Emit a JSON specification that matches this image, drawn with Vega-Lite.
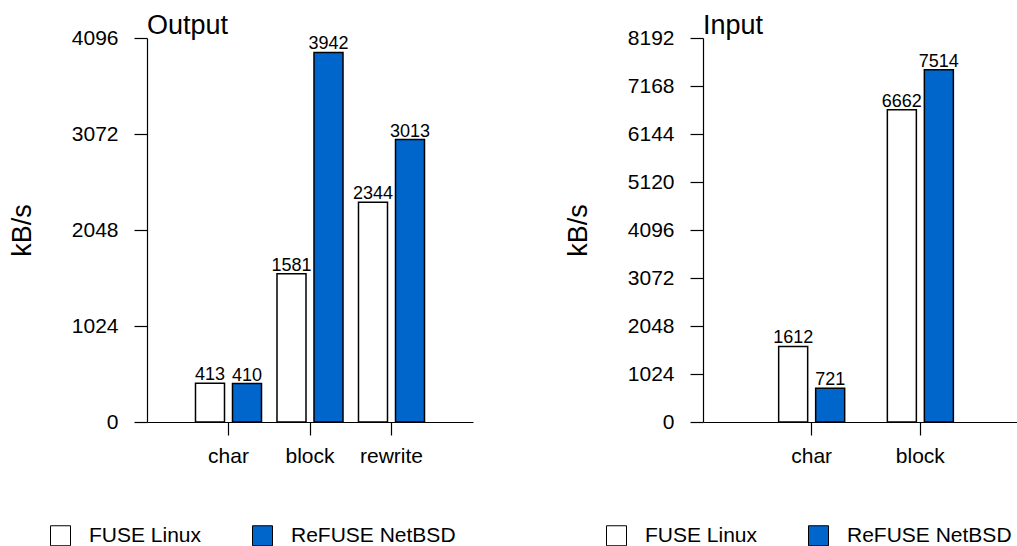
{
  "$schema": "https://vega.github.io/schema/vega-lite/v6.json",
  "padding": {"left": 8, "top": 12, "right": 0, "bottom": 0},
  "datasets": {
    "output": [
      {"test": "char", "sys": "FUSE Linux", "kbs": 413},
      {"test": "char", "sys": "ReFUSE NetBSD", "kbs": 410},
      {"test": "block", "sys": "FUSE Linux", "kbs": 1581},
      {"test": "block", "sys": "ReFUSE NetBSD", "kbs": 3942},
      {"test": "rewrite", "sys": "FUSE Linux", "kbs": 2344},
      {"test": "rewrite", "sys": "ReFUSE NetBSD", "kbs": 3013}
    ],
    "input": [
      {"test": "char", "sys": "FUSE Linux", "kbs": 1612},
      {"test": "char", "sys": "ReFUSE NetBSD", "kbs": 721},
      {"test": "block", "sys": "FUSE Linux", "kbs": 6662},
      {"test": "block", "sys": "ReFUSE NetBSD", "kbs": 7514}
    ]
  },
  "spacing": 91,
  "resolve": {"scale": {"color": "independent", "y": "independent", "x": "independent"}, "legend": {"color": "independent"}},
  "hconcat": [
    {
      "width": 326,
      "height": 384,
      "title": {"text": "Output", "anchor": "start", "frame": "group", "fontSize": 27, "fontWeight": "normal", "offset": -13, "dx": 0, "color": "black", "font": "Liberation Sans"},
      "data": {"name": "output"},
      "encoding": {
        "x": {"field": "test", "type": "nominal", "sort": ["char", "block", "rewrite"], "scale": {"paddingInner": 0.19, "paddingOuter": 0.595}},
        "xOffset": {"field": "sys", "type": "nominal", "sort": ["FUSE Linux", "ReFUSE NetBSD"], "scale": {"paddingInner": 0.216, "paddingOuter": 0}},
        "y": {"field": "kbs", "type": "quantitative", "scale": {"domain": [0, 4096], "nice": false}, "axis": {"values": [0, 1024, 2048, 3072, 4096], "title": "kB/s", "format": "d"}}
      },
      "layer": [
        {
          "mark": {"type": "bar", "stroke": "black", "strokeWidth": 1.5},
          "encoding": {
            "color": {"field": "sys", "type": "nominal", "scale": {"domain": ["FUSE Linux", "ReFUSE NetBSD"], "range": ["#ffffff", "#0066cc"]}, "legend": {"orient": "none", "legendX": -97, "legendY": 487}}
          }
        },
        {
          "mark": {"type": "text", "baseline": "alphabetic", "dy": -3, "fontSize": 18, "color": "black"},
          "encoding": {"text": {"field": "kbs", "type": "quantitative", "format": "d"}}
        }
      ]
    },
    {
      "width": 314,
      "height": 384,
      "title": {"text": "Input", "anchor": "start", "frame": "group", "fontSize": 27, "fontWeight": "normal", "offset": -13, "dx": 0, "color": "black", "font": "Liberation Sans"},
      "data": {"name": "input"},
      "encoding": {
        "x": {"field": "test", "type": "nominal", "sort": ["char", "block"], "scale": {"paddingInner": 0.393, "paddingOuter": 0.641, "align": 0.543}},
        "xOffset": {"field": "sys", "type": "nominal", "sort": ["FUSE Linux", "ReFUSE NetBSD"], "scale": {"paddingInner": 0.216, "paddingOuter": 0}},
        "y": {"field": "kbs", "type": "quantitative", "scale": {"domain": [0, 8192], "nice": false}, "axis": {"values": [0, 1024, 2048, 3072, 4096, 5120, 6144, 7168, 8192], "title": "kB/s", "format": "d"}}
      },
      "layer": [
        {
          "mark": {"type": "bar", "stroke": "black", "strokeWidth": 1.5},
          "encoding": {
            "color": {"field": "sys", "type": "nominal", "scale": {"domain": ["FUSE Linux", "ReFUSE NetBSD"], "range": ["#ffffff", "#0066cc"]}, "legend": {"orient": "none", "legendX": -97, "legendY": 487}}
          }
        },
        {
          "mark": {"type": "text", "baseline": "alphabetic", "dy": -3, "fontSize": 18, "color": "black"},
          "encoding": {"text": {"field": "kbs", "type": "quantitative", "format": "d"}}
        }
      ]
    }
  ],
  "config": {
    "font": "Liberation Sans",
    "background": "white",
    "view": {"stroke": null},
    "axis": {"domainColor": "black", "tickColor": "black", "labelColor": "black", "titleColor": "black", "labelFontSize": 21, "titleFontSize": 27, "titleFontWeight": "normal", "tickSize": 13, "grid": false, "labelFont": "Liberation Sans", "titleFont": "Liberation Sans", "domainWidth": 1.2, "tickWidth": 1.2},
    "axisX": {"labelAngle": 0, "title": null, "labelPadding": 10},
    "axisY": {"labelPadding": 16, "titlePadding": 35},
    "legend": {
      "direction": "horizontal", "title": null, "symbolType": "square", "symbolSize": 400, "symbolStrokeColor": "black", "symbolStrokeWidth": 1,
      "labelFontSize": 21, "labelColor": "black", "labelFont": "Liberation Sans", "labelOffset": 18, "columnPadding": 48, "labelLimit": 400,
      "encode": {"symbols": {"update": {"stroke": {"signal": "datum.value === 'FUSE Linux' ? 'black' : '#0066cc'"}}}}
    }
  }
}
